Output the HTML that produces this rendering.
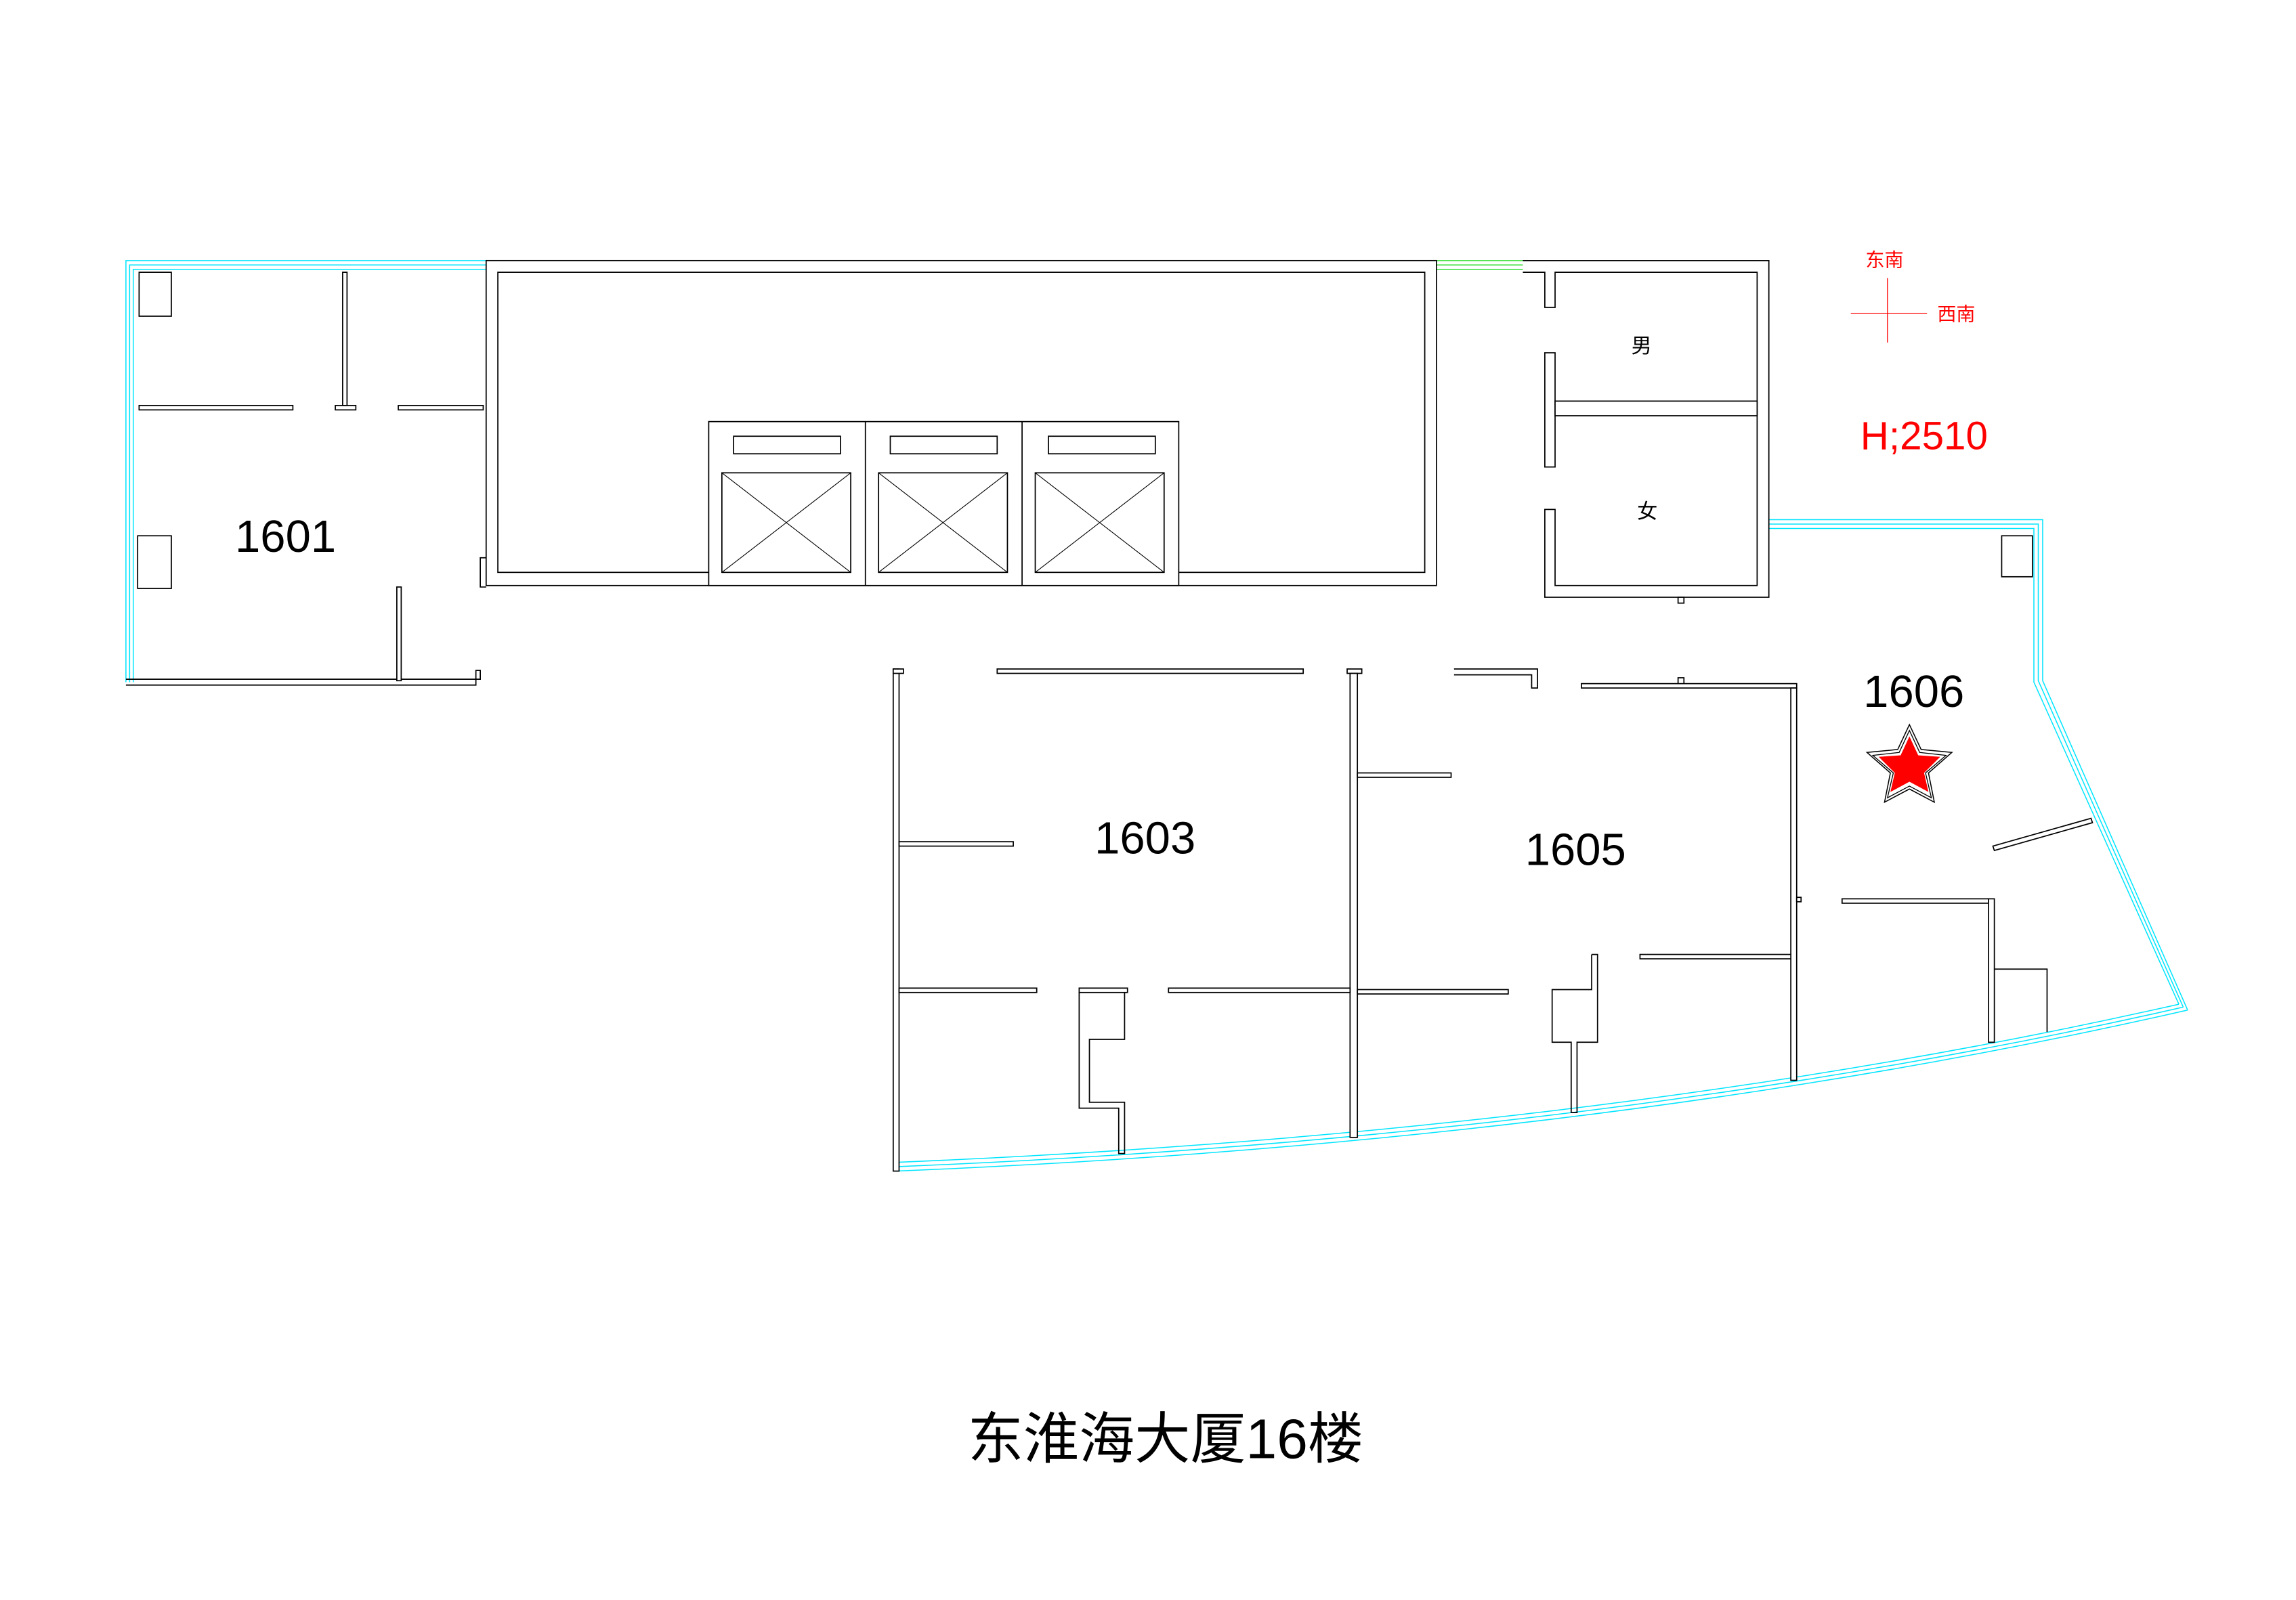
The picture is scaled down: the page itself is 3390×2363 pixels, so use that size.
<!DOCTYPE html>
<html><head><meta charset="utf-8"><style>html,body{margin:0;padding:0;background:#fff}svg{display:block}</style></head>
<body>
<svg width="3390" height="2363" viewBox="0 0 1568 1093" preserveAspectRatio="none" xmlns="http://www.w3.org/2000/svg" font-family="Liberation Sans, Noto Sans CJK SC, sans-serif">
<g fill="none" stroke="#00e5ff" stroke-width="0.7">
 <polyline points="332,178 86,178 86,466"/>
 <polyline points="332,181 88.5,181 88.5,466"/>
 <polyline points="332,184 91,184 91,466"/>
 <polyline points="1208,355 1395,355 1395,465 1494,690"/>
 <polyline points="1208,358 1392,358 1392,465 1491,688"/>
 <polyline points="1208,361 1389,361 1389,466 1488,686"/>
 <path d="M1494,690 Q1100,780 612,800"/>
 <path d="M1491,688 Q1100,777 612,797"/>
 <path d="M1488,686 Q1100,774 612,794"/>
</g>
<g fill="none" stroke="#33dd33" stroke-width="0.7">
 <line x1="981" y1="178" x2="1040" y2="178"/><line x1="981" y1="181" x2="1040" y2="181"/><line x1="981" y1="184" x2="1040" y2="184"/>
</g>
<g fill="#fff" stroke="#000" stroke-width="0.8">
 <polyline points="86,464 328,464 328,458 325,458 325,468 86,468" fill="none"/>
 <rect x="95" y="277" width="105" height="3"/>
 <rect x="229" y="277" width="14" height="3"/>
 <rect x="272" y="277" width="58" height="3"/>
 <rect x="234" y="186" width="3" height="91"/>
 <rect x="271" y="401" width="3" height="64"/>
 <rect x="95" y="186" width="22" height="30"/>
 <rect x="94" y="366" width="23" height="36"/>
 <rect x="332" y="178" width="649" height="222"/>
 <rect x="340" y="186" width="633" height="205"/>
 <polyline points="332,381 328,381 328,401 332,401" fill="none"/>
 <rect x="484" y="288" width="321" height="112"/>
 <line x1="591" y1="288" x2="591" y2="400"/><line x1="698" y1="288" x2="698" y2="400"/>
 <rect x="501" y="298" width="73" height="12"/><rect x="608" y="298" width="73" height="12"/><rect x="716" y="298" width="73" height="12"/>
 <rect x="493" y="323" width="88" height="68"/><rect x="600" y="323" width="88" height="68"/><rect x="707" y="323" width="88" height="68"/>
 <path d="M493,323 L581,391 M581,323 L493,391 M600,323 L688,391 M688,323 L600,391 M707,323 L795,391 M795,323 L707,391" fill="none" stroke-width="0.5"/>
 <rect x="1040" y="178" width="168" height="230" stroke="none"/>
 <polyline points="1040,178 1208,178 1208,408 1055,408 1055,348 1062,348 1062,400 1200,400 1200,186 1062,186 1062,210 1055,210 1055,186 1040,186" fill="none"/>
 <rect x="1055" y="241" width="7" height="78"/>
 <rect x="1062" y="274" width="138" height="10"/>
 <rect x="1146" y="408" width="4" height="4"/>
 <rect x="610" y="457" width="4" height="343"/>
 <rect x="610" y="457" width="7" height="3"/>
 <rect x="681" y="457" width="209" height="3"/>
 <rect x="920" y="457" width="10" height="3"/>
 <rect x="922" y="460" width="5" height="317"/>
 <rect x="614" y="575" width="78" height="3"/>
 <rect x="614" y="675" width="94" height="3"/>
 <rect x="798" y="675" width="124" height="3"/>
 <rect x="737" y="675" width="33" height="3"/>
 <polyline points="737,678 737,757 764,757 764,788 768,788 768,753 744,753 744,710 768,710 768,678" fill="none"/>
 <rect x="927" y="528" width="64" height="3"/>
 <rect x="927" y="676" width="103" height="3"/>
 <polyline points="993,457 1050,457 1050,470 1046,470 1046,461 993,461" fill="none"/>
 <rect x="1080" y="467" width="147" height="3"/>
 <rect x="1146" y="463" width="4" height="4"/>
 <rect x="1223" y="470" width="4" height="268"/>
 <rect x="1227" y="613" width="3" height="3"/>
 <rect x="1120" y="652" width="103" height="3"/>
 <polyline points="1087,652 1091,652 1091,712 1077,712 1077,760 1073,760 1073,712 1060,712 1060,676 1087,676 1087,652" fill="none"/>
 <rect x="1367" y="366" width="21" height="28"/>
 <rect x="1258" y="614" width="100" height="3"/>
 <rect x="1358" y="614" width="4" height="98"/>
 <polyline points="1362,662 1398,662 1398,705" fill="none"/>
 <polygon points="1361,578 1428,559 1429,562 1362,581"/>
</g>
<polygon points="1304,495 1312,512 1333,514 1317,528 1321,548 1304,539 1287,548 1291,528 1275,514 1296,512" fill="#fff" stroke="#000" stroke-width="0.7"/>
<polygon points="1304,499 1311,514 1329,516 1315,528 1319,545 1304,537 1289,545 1293,528 1279,516 1297,514" fill="none" stroke="#000" stroke-width="0.6"/>
<polygon points="1304,503 1310,516 1325,517 1314,528 1317,541 1304,534 1291,541 1294,528 1283,517 1298,516" fill="#ff0000"/>
<g fill="#000" text-anchor="middle">
 <text x="195" y="377" font-size="31">1601</text>
 <text x="782" y="583" font-size="31">1603</text>
 <text x="1076" y="591" font-size="31">1605</text>
 <text x="1307" y="483" font-size="31">1606</text>
 <text x="1121" y="241" font-size="14">男</text>
 <text x="1125" y="354" font-size="14">女</text>
 <text x="796" y="996" font-size="38">东淮海大厦16楼</text>
</g>
<g fill="#ff0000">
 <text x="1287" y="182" font-size="13" text-anchor="middle">东南</text>
 <text x="1336" y="219" font-size="13" text-anchor="middle">西南</text>
 <text x="1314" y="307" font-size="27" text-anchor="middle">H;2510</text>
</g>
<g stroke="#ff0000" stroke-width="0.6">
 <line x1="1289" y1="190" x2="1289" y2="234"/>
 <line x1="1264" y1="214" x2="1316" y2="214"/>
</g>
</svg>
</body></html>
